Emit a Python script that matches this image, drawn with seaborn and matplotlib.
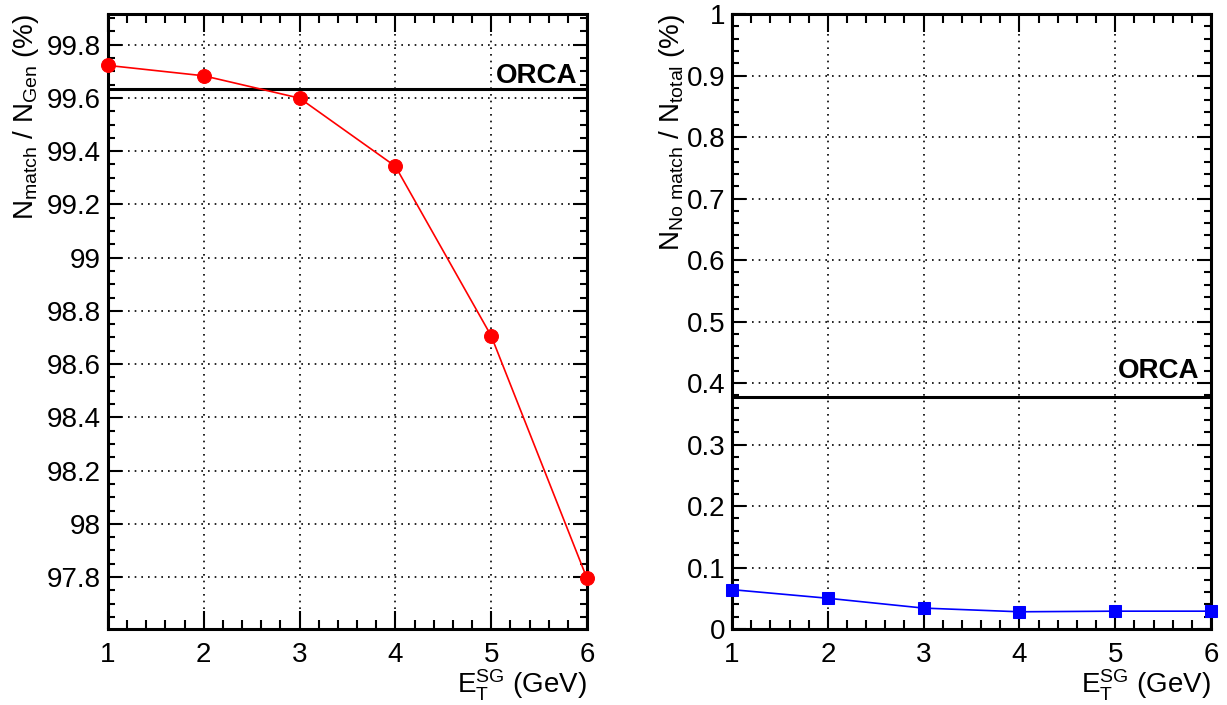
import numpy as np
import pandas as pd
import seaborn as sns
import matplotlib.pyplot as plt
from matplotlib.ticker import MultipleLocator, FormatStrFormatter

# data
et_sg = [1, 2, 3, 4, 5, 6]
match_eff = [99.722, 99.683, 99.599, 99.343, 98.706, 97.795]
orca_match = 99.633
no_match = [0.064, 0.050, 0.034, 0.028, 0.029, 0.029]
orca_no_match = 0.377

sns.set_style('ticks')
plt.rcParams['font.family'] = ['Liberation Sans', 'DejaVu Sans']
plt.rcParams['mathtext.default'] = 'regular'
plt.rcParams['axes.linewidth'] = 2.2
plt.rcParams['text.color'] = 'black'
plt.rcParams['axes.labelcolor'] = 'black'
plt.rcParams['xtick.color'] = 'black'
plt.rcParams['ytick.color'] = 'black'

fig = plt.figure(figsize=(12.27, 7.05), dpi=100)
ax1 = fig.add_axes([0.0880, 0.1078, 0.3904, 0.8723])
ax2 = fig.add_axes([0.5966, 0.1078, 0.3904, 0.8723])

df1 = pd.DataFrame({'et': et_sg, 'val': match_eff})
df2 = pd.DataFrame({'et': et_sg, 'val': no_match})

sns.lineplot(data=df1, x='et', y='val', ax=ax1, color='red', marker='o',
             markersize=10, markeredgecolor='red', linewidth=1.2, clip_on=False, zorder=5)
sns.lineplot(data=df2, x='et', y='val', ax=ax2, color='blue', marker='s',
             markersize=9, markeredgecolor='blue', linewidth=1.2, clip_on=False, zorder=5)

ax1.axhline(orca_match, color='black', linewidth=2.2, zorder=4)
ax2.axhline(orca_no_match, color='black', linewidth=2.2, zorder=4)

ax1.annotate('ORCA', xy=(1, orca_match), xycoords=ax1.get_yaxis_transform(),
             xytext=(-7, 4.5), textcoords='offset points', ha='right', va='baseline',
             fontsize=20, fontweight='bold', color='black')
ax2.annotate('ORCA', xy=(1, orca_no_match), xycoords=ax2.get_yaxis_transform(),
             xytext=(-8.5, 14), textcoords='offset points', ha='right', va='baseline',
             fontsize=20, fontweight='bold', color='black')

ax1.set_ylim(97.605, 99.915)
ax2.set_ylim(0, 1)
ax1.yaxis.set_major_locator(MultipleLocator(0.2))
ax1.yaxis.set_minor_locator(MultipleLocator(0.05))
ax2.yaxis.set_major_locator(MultipleLocator(0.1))
ax2.yaxis.set_minor_locator(MultipleLocator(0.02))

for ax in (ax1, ax2):
    ax.set_xlim(1, 6)
    ax.xaxis.set_major_locator(MultipleLocator(1))
    ax.xaxis.set_minor_locator(MultipleLocator(0.2))
    ax.yaxis.set_major_formatter(FormatStrFormatter('%g'))
    ax.grid(True, which='major', color='black', linestyle=(0, (1, 3)), linewidth=1.2)
    ax.tick_params(axis='both', which='both', direction='in', top=True, right=True,
                   width=1.5, colors='black', labelsize=20)
    ax.tick_params(axis='x', which='major', length=13, pad=9)
    ax.tick_params(axis='x', which='minor', length=6.5)
    ax.tick_params(axis='y', which='major', length=10, pad=5)
    ax.tick_params(axis='y', which='minor', length=5)
    ax.set_xlabel(r'E$_{T}^{SG}$ (GeV)', fontsize=20, loc='right', labelpad=0)
    for s in ax.spines.values():
        s.set_color('black')
    ax.set_axisbelow(False)

ax1.set_ylabel(r'N$_{match}$ / N$_{Gen}$ (%)', fontsize=20, loc='top')
ax2.set_ylabel(r'N$_{No\ match}$ / N$_{total}$ (%)', fontsize=20, loc='top')
ax1.yaxis.set_label_coords(-0.140, 1.0)
ax2.yaxis.set_label_coords(-0.094, 1.0)

fig.savefig('out.png', dpi=100)
